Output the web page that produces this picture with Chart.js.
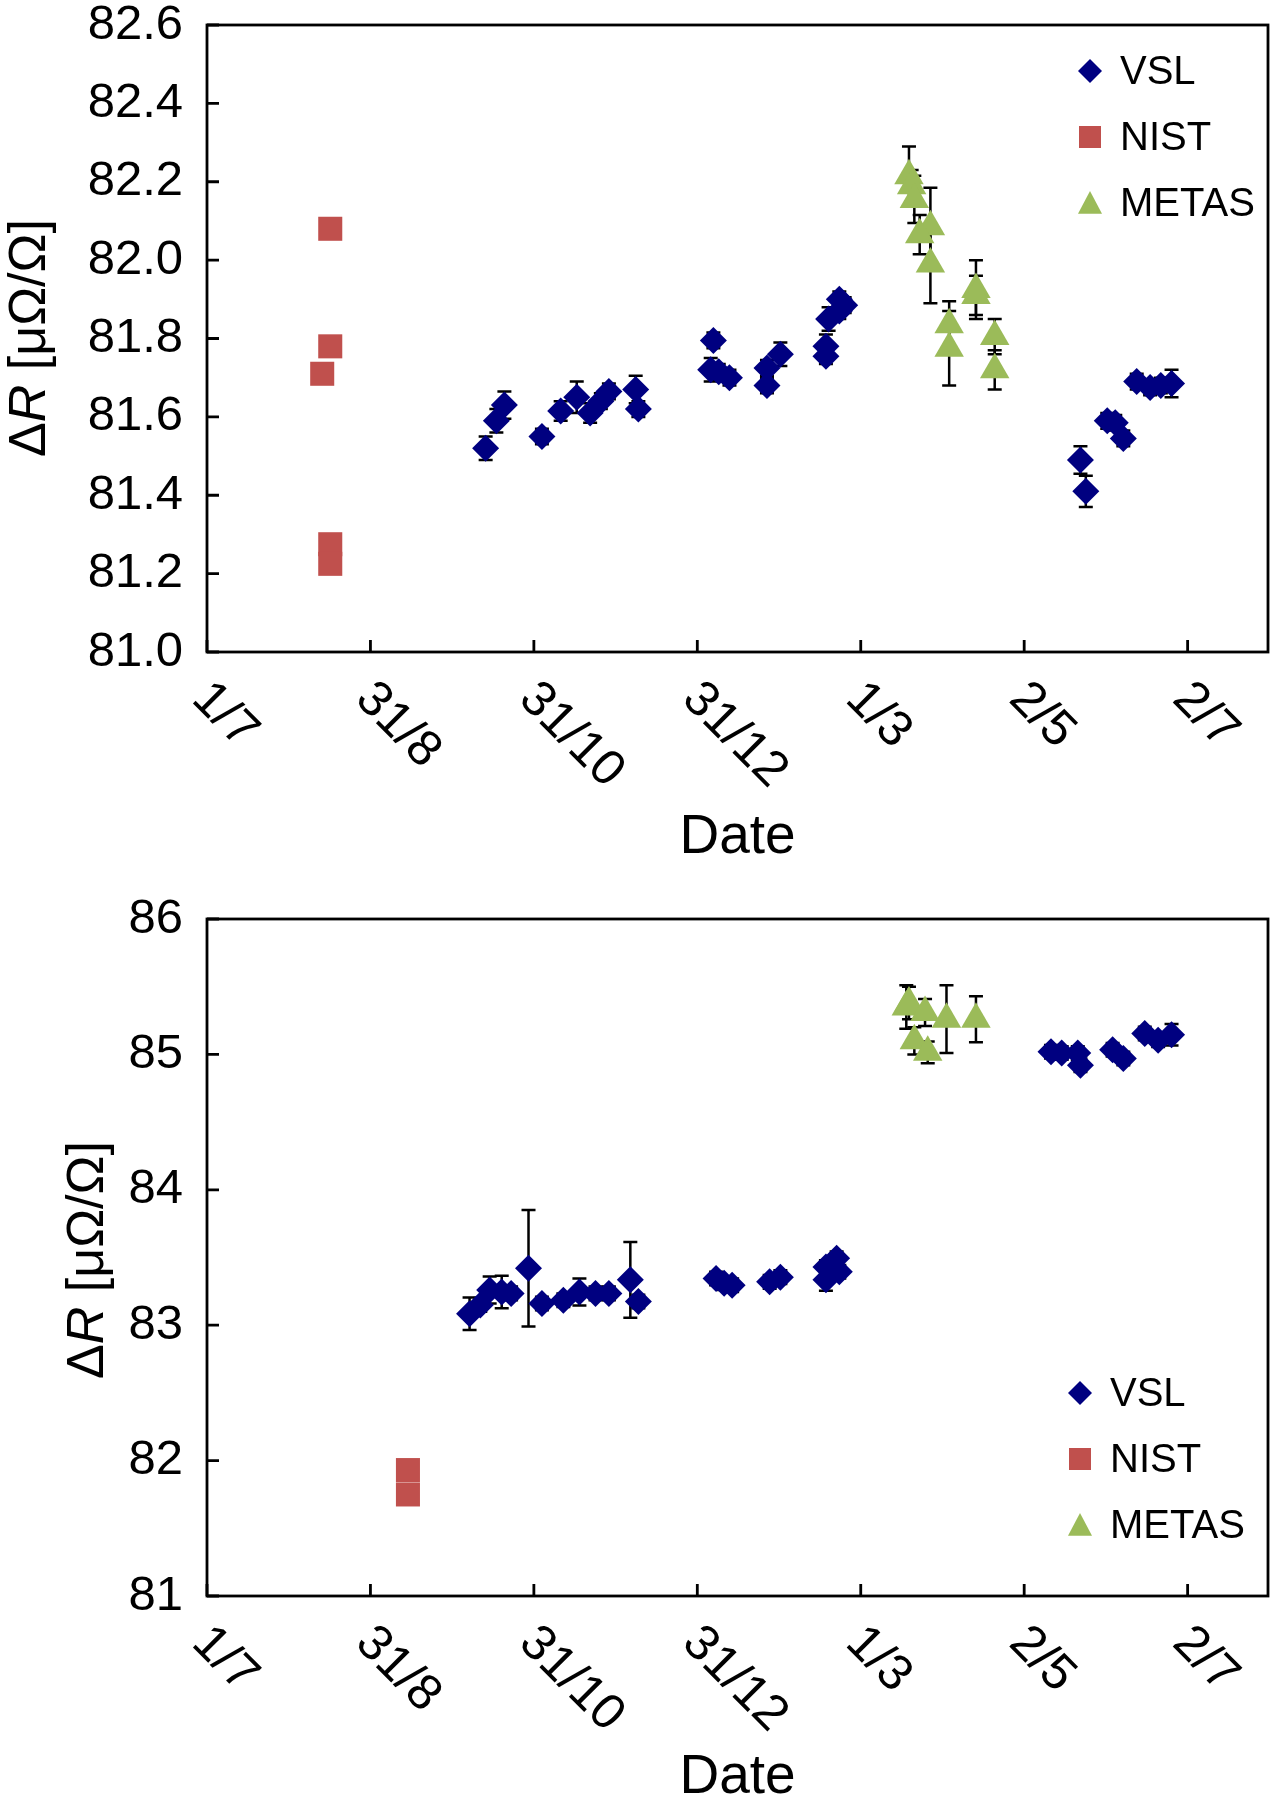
<!DOCTYPE html>
<html lang="en">
<head>
<meta charset="UTF-8">
<title>Resistance drift: VSL, NIST, METAS</title>
<script src="https://cdn.jsdelivr.net/npm/chart.js"></script>
<style>
  body { margin: 0; background: #fff; overflow: hidden; }
  #wrap { position: relative; width: 1285px; height: 1800px; }
  canvas { position: absolute; left: 0; }
</style>
</head>
<body>
<div id="wrap">
  <canvas id="topChart" width="1285" height="880" style="top:0"></canvas>
  <canvas id="bottomChart" width="1285" height="960" style="top:880px"></canvas>
</div>
<script>
// x values are days counted from 1 July
const xTickDays = [0, 61, 122, 183, 244, 305, 366];
const xTickLabels = ['1/7', '31/8', '31/10', '31/12', '1/3', '2/5', '2/7'];
const xMax = 396;

// ---- top panel ----
const topYTicks = [81.0, 81.2, 81.4, 81.6, 81.8, 82.0, 82.2, 82.4, 82.6];

const topVslDays = [104, 108, 111, 125, 132, 138, 143, 147, 150, 160, 161,
  189, 188, 191, 195, 209, 209, 214, 231, 231, 232, 236, 236, 238,
  326, 328, 336, 339, 342, 347, 352, 356, 360];
const topVslValues = [81.52, 81.59, 81.63, 81.55, 81.615, 81.65, 81.61, 81.64, 81.665, 81.67, 81.62,
  81.795, 81.72, 81.715, 81.70, 81.725, 81.68, 81.76, 81.78, 81.755, 81.85, 81.90, 81.87, 81.885,
  81.49, 81.41, 81.59, 81.585, 81.545, 81.69, 81.675, 81.68, 81.685];
const topVslErrors = [0.03, 0.03, 0.035, 0.02, 0.025, 0.04, 0.025, 0.02, 0.02, 0.035, 0.02,
  0.02, 0.03, 0.02, 0.02, 0.02, 0.02, 0.03, 0.03, 0.02, 0.03, 0.02, 0.02, 0.02,
  0.035, 0.04, 0.02, 0.02, 0.02, 0.02, 0.02, 0.02, 0.035];

const topNistDays = [43, 46, 46, 46, 46];
const topNistValues = [81.71, 82.08, 81.78, 81.275, 81.225];

const topMetasDays = [262, 263, 264, 270, 266, 270, 287, 287, 277, 277, 294, 294];
const topMetasValues = [82.215, 82.19, 82.155, 82.085, 82.065, 81.99, 81.925, 81.91, 81.835, 81.775, 81.805, 81.72];
const topMetasErrors = [0.075, 0.04, 0.06, 0.1, 0.05, 0.1, 0.075, 0.05, 0.06, 0.095, 0.045, 0.05];

// ---- bottom panel ----
const bottomYTicks = [81, 82, 83, 84, 85, 86];

const bottomVslDays = [98, 102, 105.5, 110, 113.5, 120, 125, 133, 139, 145, 150, 158, 161,
  190, 193, 196, 210, 214, 231, 231, 235, 236,
  315, 319, 325, 326, 338, 342, 350, 355, 360];
const bottomVslValues = [83.085, 83.15, 83.26, 83.245, 83.235, 83.42, 83.16, 83.185, 83.245, 83.235, 83.235, 83.335, 83.175,
  83.345, 83.31, 83.295, 83.32, 83.355, 83.335, 83.43, 83.495, 83.395,
  85.02, 85.01, 85.01, 84.92, 85.035, 84.97, 85.155, 85.105, 85.145];
const bottomVslErrors = [0.12, 0.05, 0.1, 0.12, 0.05, 0.43, 0.05, 0.05, 0.1, 0.05, 0.05, 0.28, 0.05,
  0.05, 0.05, 0.05, 0.05, 0.05, 0.08, 0.05, 0.05, 0.05,
  0.05, 0.05, 0.05, 0.05, 0.05, 0.05, 0.05, 0.05, 0.08];

const bottomNistDays = [75, 75];
const bottomNistValues = [81.93, 81.75];

const bottomMetasDays = [261, 262, 268, 264, 269, 276, 287];
const bottomMetasValues = [85.35, 85.38, 85.31, 85.10, 85.015, 85.26, 85.26];
const bottomMetasErrors = [0.16, 0.12, 0.1, 0.1, 0.08, 0.25, 0.17];

const FONT = "'Liberation Sans', Arial, sans-serif";
const VSL_COLOR = '#000080';
const NIST_COLOR = '#C0504D';
const METAS_COLOR = '#9BBB59';

function points(days, values) {
  return days.map((d, i) => ({ x: d, y: values[i] }));
}

function drawMarker(ctx, style, x, y, r) {
  ctx.beginPath();
  if (style === 'rectRot') {
    ctx.moveTo(x, y - r); ctx.lineTo(x + r, y); ctx.lineTo(x, y + r); ctx.lineTo(x - r, y);
  } else if (style === 'rect') {
    ctx.rect(x - r, y - r, 2 * r, 2 * r);
  } else {
    ctx.moveTo(x, y - r); ctx.lineTo(x + r, y + r * 0.9); ctx.lineTo(x - r, y + r * 0.9);
  }
  ctx.closePath();
  ctx.fill();
}

// frame, inward ticks, rotated date labels, y title, legend and error bars
const decor = {
  id: 'decor',
  beforeDatasetsDraw(chart) {
    const ctx = chart.ctx;
    const ys = chart.scales.y;
    ctx.save();
    ctx.strokeStyle = '#000';
    ctx.lineWidth = 2.5;
    chart.data.datasets.forEach((ds, i) => {
      if (!ds.errors) return;
      chart.getDatasetMeta(i).data.forEach((el, j) => {
        const err = ds.errors[j];
        if (!err) return;
        const v = ds.data[j].y;
        const top = ys.getPixelForValue(v + err);
        const bot = ys.getPixelForValue(v - err);
        ctx.beginPath();
        ctx.moveTo(el.x, top); ctx.lineTo(el.x, bot);
        ctx.moveTo(el.x - 7, top); ctx.lineTo(el.x + 7, top);
        ctx.moveTo(el.x - 7, bot); ctx.lineTo(el.x + 7, bot);
        ctx.stroke();
      });
    });
    ctx.restore();
  },
  afterDraw(chart, args, opts) {
    const ctx = chart.ctx;
    const area = chart.chartArea;
    const xs = chart.scales.x;
    const ys = chart.scales.y;
    ctx.save();
    ctx.strokeStyle = '#000';
    ctx.lineWidth = 2.8;
    ctx.strokeRect(area.left, area.top, area.right - area.left, area.bottom - area.top);

    ctx.beginPath();
    opts.yTicks.forEach(v => {
      const py = ys.getPixelForValue(v);
      ctx.moveTo(area.left, py); ctx.lineTo(area.left + 12, py);
    });
    xTickDays.forEach(d => {
      const px = xs.getPixelForValue(d);
      ctx.moveTo(px, area.bottom); ctx.lineTo(px, area.bottom - 12);
    });
    ctx.stroke();

    // date labels, turned 45 degrees clockwise
    ctx.fillStyle = '#000';
    ctx.font = '50px ' + FONT;
    ctx.textAlign = 'left';
    ctx.textBaseline = 'middle';
    xTickDays.forEach((d, i) => {
      const px = xs.getPixelForValue(d);
      ctx.save();
      ctx.translate(px - 7, area.bottom + 39);
      ctx.rotate(Math.PI / 4);
      ctx.fillText(xTickLabels[i], 0, 0);
      ctx.restore();
    });

    // y title: ΔR [μΩ/Ω] with italic R
    const parts = [['Δ', ''], ['R', 'italic '], [' [μΩ/Ω]', '']];
    const size = opts.titleSize;
    let total = 0;
    parts.forEach(p => { ctx.font = p[1] + size + 'px ' + FONT; total += ctx.measureText(p[0]).width; });
    ctx.save();
    ctx.translate(opts.titleX, opts.titleY);
    ctx.rotate(-Math.PI / 2);
    let cx = -total / 2;
    parts.forEach(p => {
      ctx.font = p[1] + size + 'px ' + FONT;
      ctx.fillText(p[0], cx, 0);
      cx += ctx.measureText(p[0]).width;
    });
    ctx.restore();

    // legend inside the plot
    ctx.font = '40px ' + FONT;
    chart.data.datasets.forEach((ds, i) => {
      const ly = opts.legendY + i * opts.legendStep;
      ctx.fillStyle = ds.backgroundColor;
      drawMarker(ctx, ds.pointStyle, opts.legendX, ly, ds.pointStyle === 'rect' ? 11 : 12);
      ctx.fillStyle = '#000';
      ctx.fillText(ds.label, opts.legendX + 30, ly + 2);
    });
    ctx.restore();
  }
};

function makeChart(id, cfg) {
  return new Chart(document.getElementById(id), {
    type: 'scatter',
    data: {
      datasets: [
        { label: 'VSL', data: points(cfg.vslDays, cfg.vslValues), errors: cfg.vslErrors,
          pointStyle: 'rectRot', pointRadius: 13.5, pointHoverRadius: 13.5,
          backgroundColor: VSL_COLOR, borderColor: VSL_COLOR, borderWidth: 0 },
        { label: 'NIST', data: points(cfg.nistDays, cfg.nistValues),
          pointStyle: 'rect', pointRadius: 17, pointHoverRadius: 17,
          backgroundColor: NIST_COLOR, borderColor: NIST_COLOR, borderWidth: 0 },
        { label: 'METAS', data: points(cfg.metasDays, cfg.metasValues), errors: cfg.metasErrors,
          pointStyle: 'triangle', pointRadius: 17, pointHoverRadius: 17,
          backgroundColor: METAS_COLOR, borderColor: METAS_COLOR, borderWidth: 0 }
      ]
    },
    options: {
      responsive: false,
      animation: false,
      events: [],
      layout: { padding: { left: 0, top: cfg.padTop, right: 4, bottom: 0 } },
      plugins: {
        legend: { display: false },
        tooltip: { enabled: false },
        decor: cfg.decor
      },
      scales: {
        x: {
          type: 'linear', min: 0, max: xMax,
          grid: { display: false, drawTicks: false },
          border: { display: false },
          ticks: { display: false },
          afterBuildTicks: s => { s.ticks = xTickDays.map(v => ({ value: v })); },
          afterFit: s => { s.height = cfg.xAxisHeight; s.paddingLeft = 0; s.paddingRight = 0; },
          title: { display: true, text: 'Date', color: '#000',
            font: { family: FONT, size: 55 }, padding: { top: 0, bottom: cfg.datePad } }
        },
        y: {
          min: cfg.yTicks[0], max: cfg.yTicks[cfg.yTicks.length - 1],
          grid: { display: false, drawTicks: false },
          border: { display: false },
          ticks: { color: '#000', padding: 24, font: { family: FONT, size: 49, lineHeight: 1 },
            callback: v => v.toFixed(cfg.decimals) },
          afterBuildTicks: s => { s.ticks = cfg.yTicks.map(v => ({ value: v })); },
          afterFit: s => { s.width = 207; s.paddingTop = 0; s.paddingBottom = 0; }
        }
      }
    },
    plugins: [decor]
  });
}

makeChart('topChart', {
  vslDays: topVslDays, vslValues: topVslValues, vslErrors: topVslErrors,
  nistDays: topNistDays, nistValues: topNistValues,
  metasDays: topMetasDays, metasValues: topMetasValues, metasErrors: topMetasErrors,
  yTicks: topYTicks, decimals: 1,
  padTop: 25, xAxisHeight: 228, datePad: 9,
  decor: { yTicks: topYTicks, titleX: 31, titleY: 338, titleSize: 52,
    legendX: 1090, legendY: 71, legendStep: 66 }
});

makeChart('bottomChart', {
  vslDays: bottomVslDays, vslValues: bottomVslValues, vslErrors: bottomVslErrors,
  nistDays: bottomNistDays, nistValues: bottomNistValues,
  metasDays: bottomMetasDays, metasValues: bottomMetasValues, metasErrors: bottomMetasErrors,
  yTicks: bottomYTicks, decimals: 0,
  padTop: 39, xAxisHeight: 244, datePad: 29,
  decor: { yTicks: bottomYTicks, titleX: 89, titleY: 380, titleSize: 52,
    legendX: 1080, legendY: 513, legendStep: 66 }
});
</script>
</body>
</html>
